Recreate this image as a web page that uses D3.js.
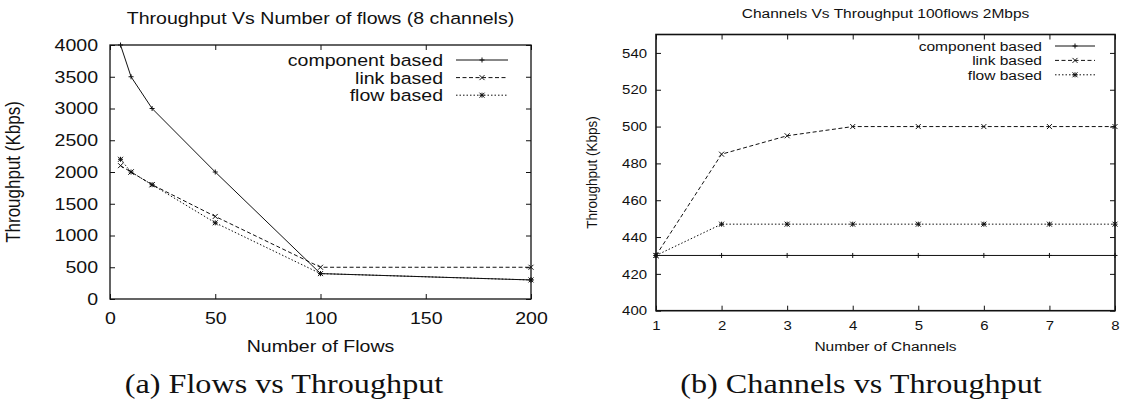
<!DOCTYPE html>
<meta charset="utf-8">
<head>
  <meta charset="utf-8">
  <title>Throughput charts</title>
  <style>
    body { margin: 0; background: #fff; }
    text { font-family: "Liberation Sans", Arial, sans-serif; fill: #111; }
  </style>
</head>
<body>
<script src="https://cdn.jsdelivr.net/npm/d3@7"></script>
<script>

// the source figure is stretched sideways, so text gets the same stretch
var SX = 1.15;

var seriesNames = ["component based", "link based", "flow based"];

// (a) throughput vs number of flows
var flowsX = [5, 10, 20, 50, 100, 200];
var flowsComponent = [4000, 3500, 3000, 2000, 400, 300];
var flowsLink = [2100, 2000, 1800, 1300, 500, 500];
var flowsFlow = [2200, 2000, 1800, 1200, 400, 300];
var flowsXTicks = [0, 50, 100, 150, 200];
var flowsYTicks = [0, 500, 1000, 1500, 2000, 2500, 3000, 3500, 4000];

// (b) throughput vs number of channels
var channelsX = [1, 2, 3, 4, 5, 6, 7, 8];
var channelsComponent = [430, 430, 430, 430, 430, 430, 430, 430];
var channelsLink = [430, 485, 495, 500, 500, 500, 500, 500];
var channelsFlow = [430, 447, 447, 447, 447, 447, 447, 447];
var channelsXTicks = [1, 2, 3, 4, 5, 6, 7, 8];
var channelsYTicks = [400, 420, 440, 460, 480, 500, 520, 540];

var svg = d3.select("body").append("svg")
    .attr("width", 1123)
    .attr("height", 402);

var fmt = d3.format("d");

// marker shapes: + for component, x for link, * for flow
function markerPath(type, s) {
  var plus = "M" + (-s) + ",0H" + s + "M0," + (-s) + "V" + s;
  var cross = "M" + (-s) + "," + (-s) + "L" + s + "," + s +
              "M" + (-s) + "," + s + "L" + s + "," + (-s);
  if (type == 0) return plus;
  if (type == 1) return cross;
  return plus + cross;
}
var dashes = [null, "4,2.5", "1.5,2"];

function label(x, y, str, size, anchor, family) {
  return svg.append("text")
      .attr("transform", "translate(" + x + "," + y + ") scale(" + SX + ",1)")
      .attr("text-anchor", anchor)
      .style("font-size", size + "px")
      .style("font-family", family || null)
      .text(str);
}

function drawChart(o) {
  var x = d3.scaleLinear().domain(o.xDomain).range([o.left, o.right]);
  var y = d3.scaleLinear().domain(o.yDomain).range([o.bottom, o.top]);
  var g = svg.append("g");

  // ticks, inside on all four sides
  var bx = g.append("g")
      .attr("transform", "translate(0," + o.bottom + ")")
      .call(d3.axisBottom(x).tickValues(o.xTicks).tickFormat(fmt)
              .tickSize(-5).tickPadding(o.xPad));
  var ly = g.append("g")
      .attr("transform", "translate(" + o.left + ",0)")
      .call(d3.axisLeft(y).tickValues(o.yTicks).tickFormat(fmt)
              .tickSize(-5).tickPadding(o.yPad));
  g.append("g")
      .attr("transform", "translate(0," + o.top + ")")
      .call(d3.axisTop(x).tickValues(o.xTicks).tickSize(-5).tickFormat(""));
  g.append("g")
      .attr("transform", "translate(" + o.right + ",0)")
      .call(d3.axisRight(y).tickValues(o.yTicks).tickSize(-5).tickFormat(""));
  g.selectAll(".domain").remove();
  g.selectAll(".tick line").attr("stroke", "#111");

  bx.selectAll("text")
      .style("font-size", o.tickSize + "px")
      .style("font-family", "Liberation Sans")
      .attr("fill", "#111")
      .attr("transform", "scale(" + SX + ",1)");
  ly.selectAll("text")
      .style("font-size", o.tickSize + "px")
      .style("font-family", "Liberation Sans")
      .attr("fill", "#111")
      .attr("x", -o.yPad / SX)
      .attr("transform", "scale(" + SX + ",1)");

  g.append("rect")
      .attr("x", o.left).attr("y", o.top)
      .attr("width", o.right - o.left).attr("height", o.bottom - o.top)
      .attr("fill", "none").attr("stroke", "#111").attr("stroke-width", o.frame);

  // series
  var line = d3.line()
      .x(function(d) { return x(d[0]); })
      .y(function(d) { return y(d[1]); });

  o.series.forEach(function(vals, i) {
    var pts = o.xs.map(function(v, j) { return [v, vals[j]]; });
    g.append("path")
        .attr("d", line(pts))
        .attr("fill", "none")
        .attr("stroke", "#111")
        .attr("stroke-width", 1)
        .attr("stroke-dasharray", dashes[i]);
    g.selectAll(null).data(pts).enter().append("path")
        .attr("transform", function(d) { return "translate(" + x(d[0]) + "," + y(d[1]) + ")"; })
        .attr("d", markerPath(i, o.mark))
        .attr("fill", "none")
        .attr("stroke", "#111")
        .attr("stroke-width", 1);
  });

  // legend
  seriesNames.forEach(function(name, i) {
    var ry = o.legY + i * o.legStep;
    label(o.legText, ry, name, o.legFont, "end").attr("dy", "0.35em");
    g.append("line")
        .attr("x1", o.legL).attr("x2", o.legR)
        .attr("y1", ry).attr("y2", ry)
        .attr("stroke", "#111").attr("stroke-width", 1)
        .attr("stroke-dasharray", dashes[i]);
    g.append("path")
        .attr("transform", "translate(" + (o.legL + o.legR) / 2 + "," + ry + ")")
        .attr("d", markerPath(i, o.mark))
        .attr("fill", "none").attr("stroke", "#111");
  });

  // titles and axis labels
  var cx = (o.left + o.right) / 2;
  label(cx, o.titleY, o.title, o.titleFont, "middle");
  label(cx, o.xLabelY, o.xLabel, o.labelFont, "middle");
  svg.append("text")
      .attr("transform", "translate(" + o.yLabelX + "," + (o.top + o.bottom) / 2 +
            ") scale(" + SX + ",1) rotate(-90)")
      .attr("text-anchor", "middle")
      .style("font-size", o.labelFont + "px")
      .text(o.yLabel);
  label(o.capX, 393, o.caption, 28, "middle", "Liberation Serif");
}

drawChart({
  xs: flowsX, series: [flowsComponent, flowsLink, flowsFlow],
  xDomain: [0, 200], yDomain: [0, 4000],
  xTicks: flowsXTicks, yTicks: flowsYTicks,
  left: 110, right: 531, top: 45, bottom: 299,
  xPad: 13, yPad: 12, tickSize: 17, frame: 1.3, mark: 2.5,
  legText: 443, legL: 456, legR: 508, legY: 60, legStep: 17.6, legFont: 17,
  title: "Throughput Vs Number of flows (8 channels)", titleY: 24, titleFont: 17,
  xLabel: "Number of Flows", xLabelY: 352, labelFont: 17,
  yLabel: "Throughput (Kbps)", yLabelX: 20,
  caption: "(a) Flows vs Throughput", capX: 284
});

drawChart({
  xs: channelsX, series: [channelsComponent, channelsLink, channelsFlow],
  xDomain: [1, 8], yDomain: [400, 550],
  xTicks: channelsXTicks, yTicks: channelsYTicks,
  left: 656, right: 1115, top: 34.5, bottom: 310.7,
  xPad: 10.5, yPad: 9, tickSize: 13, frame: 1.6, mark: 2.5,
  legText: 1042, legL: 1055, legR: 1095, legY: 46, legStep: 14.4, legFont: 13.5,
  title: "Channels Vs Throughput 100flows 2Mbps", titleY: 18.3, titleFont: 13.5,
  xLabel: "Number of Channels", xLabelY: 351, labelFont: 13.5,
  yLabel: "Throughput (Kbps)", yLabelX: 597,
  caption: "(b) Channels vs Throughput", capX: 861
});

</script>
</body>
